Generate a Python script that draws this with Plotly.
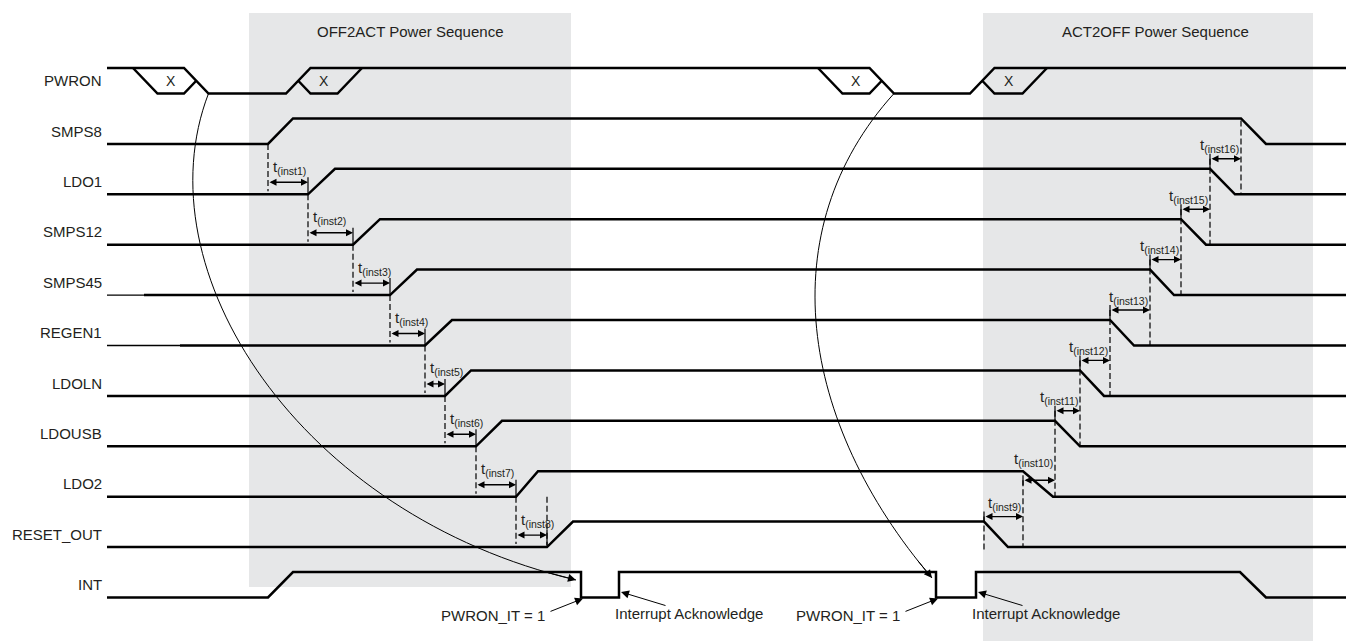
import plotly.graph_objects as go

# ---------------- data (time axis in arbitrary units) ----------------
signals = ["PWRON", "SMPS8", "LDO1", "SMPS12", "SMPS45", "REGEN1",
           "LDOLN", "LDOUSB", "LDO2", "RESET_OUT", "INT"]

# OFF2ACT: rising ramps of SMPS8 .. RESET_OUT (start / end)
rise_start = [268, 308, 353, 390, 425, 445, 476, 516, 547]
rise_end = [293, 335, 380, 417, 452, 471, 502, 538, 573]
# ACT2OFF: falling ramps of SMPS8 .. RESET_OUT (start / end)
fall_start = [1241, 1210, 1181, 1150, 1110, 1080, 1055, 1023, 984]
fall_end = [1266, 1235, 1206, 1174, 1134, 1104, 1080, 1053, 1008]

off2act_delays = ["inst1", "inst2", "inst3", "inst4", "inst5", "inst6", "inst7", "inst8"]
act2off_delays = ["inst9", "inst10", "inst11", "inst12", "inst13", "inst14", "inst15", "inst16"]

# PWRON button: falling / rising edges and don't-care ("X") windows
pwron_fall = [184, 869.5]
pwron_rise = [286, 970]
pwron_x_before_fall = [133, 818]
pwron_x_after_rise = [362, 1047]

# INT line
int_rise = [268, 293]
int_assert = [581, 936]
int_ack = [619, 976]
int_fall = [1240, 1266]

sections = ["OFF2ACT Power Sequence", "ACT2OFF Power Sequence"]
section_start = [249, 983]
section_end = [571, 1313]
section_title_center = [410, 1155]

# ---------------- layout constants ----------------
W, H = 1346, 641
X0, X1 = 107, 1346
ROW0_LOW, PITCH, AMP = 93.5, 50.4, 25.5
R = 24.5
FONT = "Arial, Liberation Sans, sans-serif"
TXT = "#231f20"
LW = 2.5


def low(i):
    return ROW0_LOW + PITCH * i


def high(i):
    return low(i) - AMP


def mid(i):
    return low(i) - AMP / 2


fig = go.Figure()
shapes = []
ann = []

# shaded sequence regions
for k in range(2):
    shapes.append(dict(type="rect", xref="x", yref="y", x0=section_start[k], x1=section_end[k],
                       y0=13, y1=587 if k == 0 else 645, fillcolor="#e6e7e8",
                       line=dict(width=0), layer="below"))
    ann.append(dict(x=section_title_center[k], y=31, xref="x", yref="y", text=sections[k],
                    showarrow=False, font=dict(family=FONT, size=15, color=TXT)))


def add_line(xs, ys, width=LW, color="black"):
    fig.add_trace(go.Scatter(x=xs, y=ys, mode="lines", hoverinfo="skip",
                             line=dict(color=color, width=width), showlegend=False))


# PWRON main line
Hh, Ll, Mm = high(0), low(0), mid(0)
xs = [X0, pwron_fall[0], pwron_fall[0] + R, pwron_rise[0], pwron_rise[0] + R,
      pwron_fall[1], pwron_fall[1] + R, pwron_rise[1], pwron_rise[1] + R, X1]
ys = [Hh, Hh, Ll, Ll, Hh, Hh, Ll, Ll, Hh, Hh]
add_line(xs, ys)
for s, f in zip(pwron_x_before_fall, pwron_fall):
    add_line([s, s + R, f, f + R / 2], [Hh, Ll, Ll, Mm])
    ann.append(dict(x=(s + R + f) / 2, y=Mm, xref="x", yref="y", text="X", showarrow=False,
                    font=dict(family=FONT, size=14, color=TXT)))
for e, r in zip(pwron_x_after_rise, pwron_rise):
    add_line([r + R / 2, r + R, e - R, e], [Mm, Ll, Ll, Hh])
    ann.append(dict(x=(r + R + e - R) / 2, y=Mm, xref="x", yref="y", text="X", showarrow=False,
                    font=dict(family=FONT, size=14, color=TXT)))

# regulator rows
thin_lead = {4: 144, 5: 180}
for j in range(1, 10):
    k = j - 1
    start = thin_lead.get(j, X0)
    if j in thin_lead:
        add_line([X0, start], [low(j), low(j)], width=1.3)
    add_line([start, rise_start[k], rise_end[k], fall_start[k], fall_end[k], X1],
             [low(j), low(j), high(j), high(j), low(j), low(j)])

# INT row
i = 10
add_line([X0, int_rise[0], int_rise[1], int_assert[0], int_assert[0], int_ack[0], int_ack[0],
          int_assert[1], int_assert[1], int_ack[1], int_ack[1], int_fall[0], int_fall[1], X1],
         [low(i), low(i), high(i), high(i), low(i), low(i), high(i), high(i), low(i), low(i),
          high(i), high(i), low(i), low(i)])

# signal names
for j, name in enumerate(signals):
    ann.append(dict(x=104, y=mid(j), xref="x", yref="y", text=name, showarrow=False,
                    xanchor="right", font=dict(family=FONT, size=15, color=TXT)))

DASH = dict(color="black", width=1.2, dash="6px,3px")
SOLID = dict(color="black", width=1.2)


def vline(x, y0, y1, line):
    shapes.append(dict(type="line", xref="x", yref="y", x0=x, x1=x, y0=y0, y1=y1, line=line))


def tarrow(xa, xb, y):
    ann.append(dict(x=xb, y=y, ax=xa, ay=y, xref="x", yref="y", axref="x", ayref="y", text="",
                    showarrow=True, arrowhead=2, arrowside="end+start", arrowsize=1.0,
                    arrowwidth=1.4, arrowcolor="black", standoff=0, startstandoff=0))


# OFF2ACT delays
for k in range(8):
    j = k + 1
    xa, xb = rise_start[k], rise_start[k + 1]
    ya = low(j + 1) - 12
    vline(xa, low(j), low(j + 1) - 3, DASH)
    vline(xb, ya - 5, low(j + 1), SOLID)
    tarrow(xa, xb, ya)
    ann.append(dict(x=xa + 3, y=ya - 15, xref="x", yref="y",
                    text="t<sub>(" + off2act_delays[k] + ")</sub>", showarrow=False,
                    xanchor="left", font=dict(family=FONT, size=15, color=TXT)))
vline(rise_start[8], low(8), low(9) - 2, DASH)

# ACT2OFF delays
arrow_off = {9: -5, 8: 9}
label_off = {9: -18, 8: -12}
for m in range(8):
    j = 9 - m          # row whose fall starts the delay
    xa, xb = fall_start[j - 1], fall_start[j - 2]
    ya = high(j) + arrow_off.get(j, -10)
    tarrow(xa, xb, ya)
    vline(xa, ya - 5, max(high(j), ya + 5), SOLID)
    ann.append(dict(x=xb, y=high(j) + label_off.get(j, -23), xref="x", yref="y",
                    text="t<sub>(" + act2off_delays[m] + ")</sub>", showarrow=False,
                    xanchor="right", font=dict(family=FONT, size=15, color=TXT)))
for j in range(1, 10):
    top = high(1) + 2 if j == 1 else high(j) + arrow_off.get(j, -10)
    bot = low(j + 1) if j < 9 else low(9) + 3
    vline(fall_start[j - 1], top, bot, DASH)


# curved arrows from PWRON to INT
def bez(p0, p1, p2, p3, t):
    a, b, c, d = (1 - t) ** 3, 3 * t * (1 - t) ** 2, 3 * t * t * (1 - t), t ** 3
    return (a * p0[0] + b * p1[0] + c * p2[0] + d * p3[0],
            a * p0[1] + b * p1[1] + c * p2[1] + d * p3[1])


curves = [
    ((pwron_fall[0] + R, low(0)), (-68, 177), (int_assert[0] - 5, high(10) + 8), (-277, -65)),
    ((pwron_fall[1] + R, low(0)), (-124, 137), (int_assert[1] - 4, high(10) + 6), (-133, -156)),
]
for p0, d1, p3, d2 in curves:
    p1 = (p0[0] + d1[0], p0[1] + d1[1])
    p2 = (p3[0] + d2[0], p3[1] + d2[1])
    shapes.append(dict(type="path", xref="x", yref="y",
                       path=f"M {p0[0]},{p0[1]} C {p1[0]},{p1[1]} {p2[0]},{p2[1]} {p3[0]},{p3[1]}",
                       line=dict(color="black", width=1)))
    tail = bez(p0, p1, p2, p3, 0.96)
    ann.append(dict(x=p3[0], y=p3[1], ax=tail[0], ay=tail[1], xref="x", yref="y", axref="x",
                    ayref="y", text="", showarrow=True, arrowhead=2, arrowsize=1.6,
                    arrowwidth=1, arrowcolor="black", standoff=0))

# interrupt annotations
for k in range(2):
    ann.append(dict(x=int_assert[k] - 34, y=615, xref="x", yref="y", text="PWRON_IT = 1",
                    showarrow=False, xanchor="right", font=dict(family=FONT, size=15, color=TXT)))
    ann.append(dict(x=int_assert[k] + 2, y=low(10) + 1, ax=int_assert[k] - 32, ay=612,
                    xref="x", yref="y", axref="x", ayref="y", text="", showarrow=True,
                    arrowhead=2, arrowsize=1.6, arrowwidth=1, arrowcolor="black", standoff=0))
    ann.append(dict(x=int_ack[k] - 6, y=613, xref="x", yref="y", text="Interrupt Acknowledge",
                    showarrow=False, xanchor="left", font=dict(family=FONT, size=15, color=TXT)))
    ann.append(dict(x=int_ack[k] + 2, y=high(10) + 20, ax=int_ack[k] + 48, ay=606,
                    xref="x", yref="y", axref="x", ayref="y", text="", showarrow=True,
                    arrowhead=2, arrowsize=1.6, arrowwidth=1, arrowcolor="black", standoff=0))

fig.update_layout(
    width=W, height=H, margin=dict(l=0, r=0, t=0, b=0),
    paper_bgcolor="white", plot_bgcolor="white",
    xaxis=dict(range=[0, W], visible=False, fixedrange=True),
    yaxis=dict(range=[H, 0], visible=False, fixedrange=True),
    shapes=shapes, annotations=ann, showlegend=False,
)

fig.write_html("out.html", config={"displayModeBar": False},
               post_script="document.body.style.margin='0';")
